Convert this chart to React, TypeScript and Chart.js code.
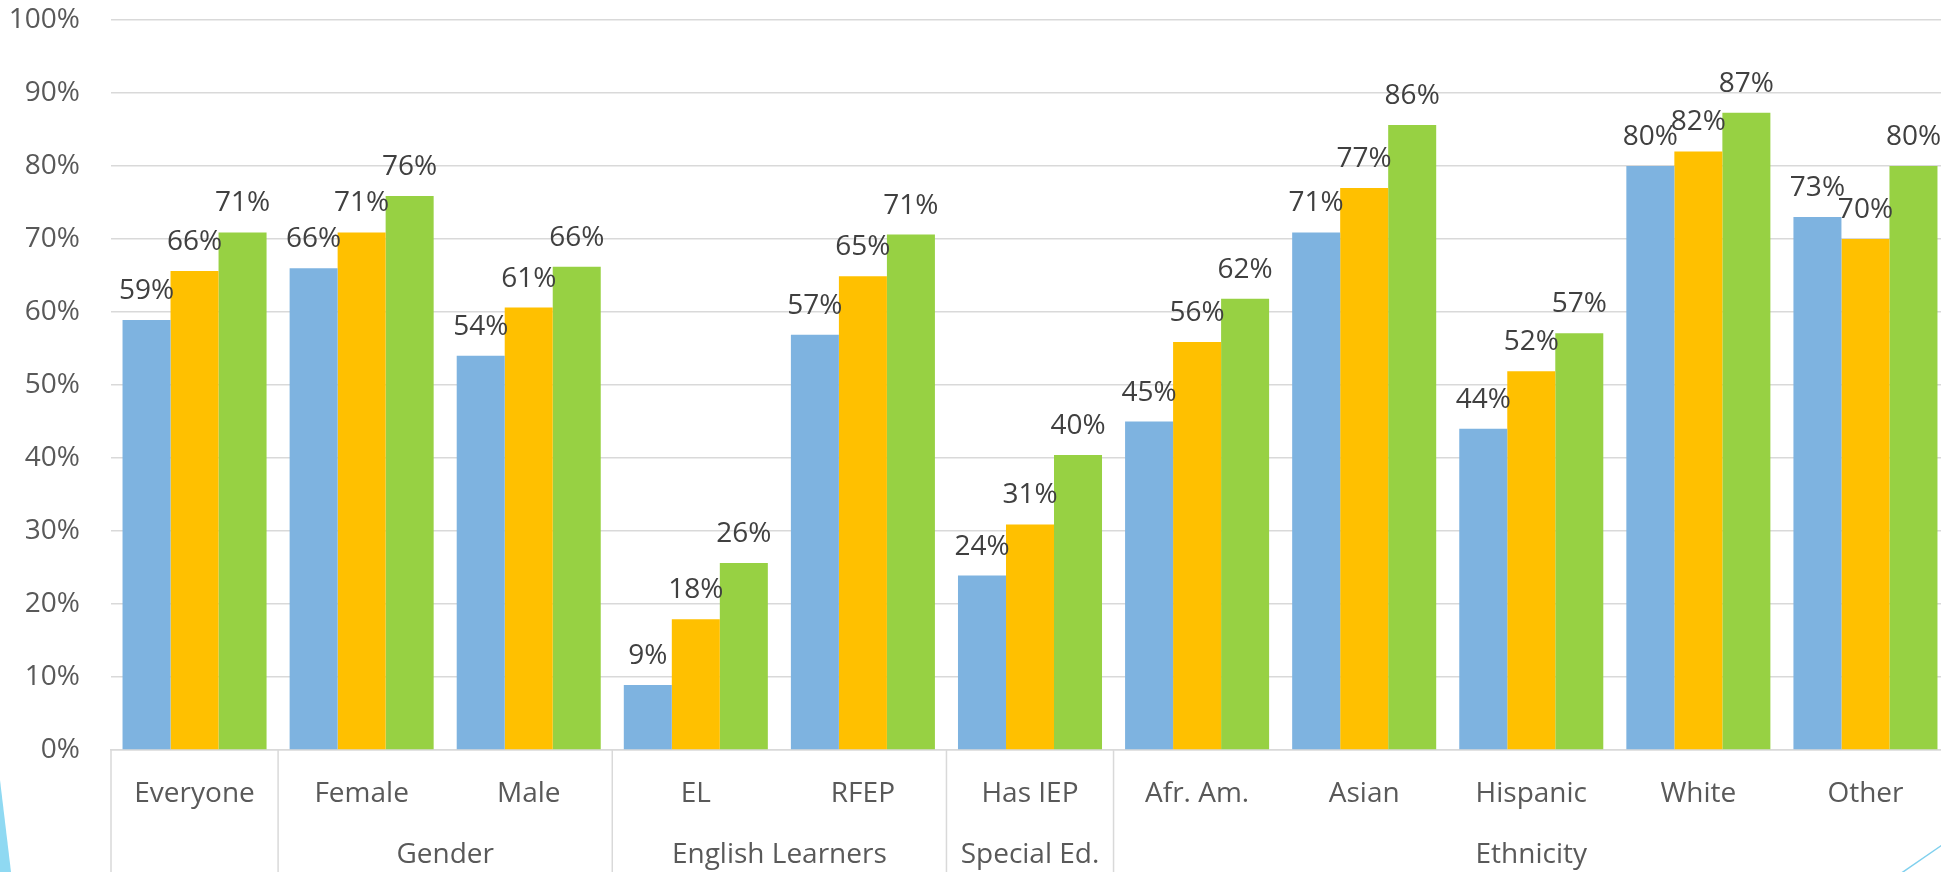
import React, { useEffect, useRef } from "react";
import { Chart, registerables } from "chart.js";

Chart.register(...registerables);

// ---- data ----
const categories = ["Everyone", "Female", "Male", "EL", "RFEP", "Has IEP", "Afr. Am.", "Asian", "Hispanic", "White", "Other"];
const groupNames = ["", "Gender", "English Learners", "Special Ed.", "Ethnicity"];
const groupSpans = [1, 2, 2, 1, 5];
const seriesNames = ["Series 1", "Series 2", "Series 3"];
const series1 = [58.9, 66.0, 54.0, 8.9, 56.9, 23.9, 45.0, 70.9, 44.0, 80.0, 73.0];
const series2 = [65.6, 70.9, 60.6, 17.9, 64.9, 30.9, 55.9, 77.0, 51.9, 82.0, 70.0];
const series3 = [70.9, 75.9, 66.2, 25.6, 70.6, 40.4, 61.8, 85.6, 57.1, 87.3, 80.0];
const yMin = 0;
const yMax = 100;
const yStep = 10;

const seriesColors = ["#7EB3E0", "#FFC000", "#97D143"];
const FONT = '"Open Sans", sans-serif';
const FONT_SIZE = 28;

const dataLabelPlugin = {
  id: "dataLabels",
  afterDatasetsDraw(chart: any) {
    const ctx = chart.ctx;
    ctx.save();
    ctx.font = `${FONT_SIZE}px ${FONT}`;
    ctx.fillStyle = "#404040";
    ctx.textAlign = "center";
    ctx.textBaseline = "alphabetic";
    chart.data.datasets.forEach((ds: any, di: number) => {
      const meta = chart.getDatasetMeta(di);
      meta.data.forEach((el: any, i: number) => {
        const v = ds.data[i];
        ctx.fillText(Math.round(v) + "%", el.x, el.y - 21);
      });
    });
    ctx.restore();
  },
};

const multiAxisPlugin = {
  id: "multiAxis",
  beforeDraw(chart: any) {
    const ctx = chart.ctx;
    const H = chart.height;
    ctx.save();
    // slide decorations
    ctx.fillStyle = "#8FD9F2";
    ctx.beginPath();
    ctx.moveTo(0, 780);
    ctx.lineTo(11, H);
    ctx.lineTo(0, H);
    ctx.closePath();
    ctx.fill();
    ctx.strokeStyle = "#7FD0EE";
    ctx.lineWidth = 1.5;
    ctx.beginPath();
    ctx.moveTo(1945, 843);
    ctx.lineTo(1900, H + 2);
    ctx.stroke();
    ctx.restore();
  },
  afterDraw(chart: any) {
    const ctx = chart.ctx;
    const xs = chart.scales.x;
    const area = chart.chartArea;
    const H = chart.height;
    const half = (xs.getPixelForValue(1) - xs.getPixelForValue(0)) / 2;
    const edges: number[] = [xs.getPixelForValue(0) - half];
    let idx = 0;
    groupSpans.forEach((s) => {
      idx += s;
      edges.push(xs.getPixelForValue(idx - 1) + half);
    });
    ctx.save();
    ctx.strokeStyle = "#D9D9D9";
    ctx.lineWidth = 1.5;
    edges.forEach((e) => {
      ctx.beginPath();
      ctx.moveTo(e, area.bottom);
      ctx.lineTo(e, H);
      ctx.stroke();
    });
    ctx.font = `${FONT_SIZE}px ${FONT}`;
    ctx.fillStyle = "#595959";
    ctx.textAlign = "center";
    ctx.textBaseline = "alphabetic";
    categories.forEach((c, i) => {
      ctx.fillText(c, xs.getPixelForValue(i), area.bottom + 52);
    });
    groupNames.forEach((g, gi) => {
      if (!g) return;
      const cx = (edges[gi] + edges[gi + 1]) / 2;
      ctx.fillText(g, cx, area.bottom + 113);
    });
    ctx.restore();
  },
};

export default function App() {
  const ref = useRef<HTMLCanvasElement | null>(null);
  useEffect(() => {
    if (!ref.current) return;
    const allSeries = [series1, series2, series3];
    const chart = new Chart(ref.current, {
      type: "bar",
      data: {
        labels: categories,
        datasets: allSeries.map((d, i) => ({
          label: seriesNames[i],
          data: d,
          backgroundColor: seriesColors[i],
          borderWidth: 0,
          categoryPercentage: 0.862,
          barPercentage: 1,
        })),
      },
      options: {
        responsive: false,
        animation: false,
        layout: { padding: { top: 20, left: 0, right: 0, bottom: 0 } },
        plugins: {
          legend: { display: false },
          tooltip: { enabled: false },
        },
        scales: {
          x: {
            grid: { display: false },
            border: { display: true, color: "#D9D9D9", width: 1.5 },
            ticks: { display: false },
            afterFit: (s: any) => {
              s.height = 122;
              s.paddingLeft = 0;
              s.paddingRight = 0;
            },
          },
          y: {
            min: yMin,
            max: yMax,
            ticks: {
              stepSize: yStep,
              padding: 31,
              color: "#595959",
              font: { family: FONT, size: FONT_SIZE },
              callback: (v: any) => v + "%",
            },
            grid: { color: "#D9D9D9", lineWidth: 1.5, drawTicks: false },
            border: { display: false },
            afterFit: (s: any) => {
              s.width = 111;
              s.paddingTop = 0;
              s.paddingBottom = 0;
            },
          },
        },
      },
      plugins: [multiAxisPlugin, dataLabelPlugin],
    });
    return () => chart.destroy();
  }, []);
  return (
    <div
      style={{
        position: "fixed",
        left: 0,
        top: 0,
        width: 1941,
        height: 872,
        overflow: "hidden",
        background: "#ffffff",
      }}
    >
      <canvas ref={ref} width={1949} height={872} style={{ display: "block" }} />
    </div>
  );
}
